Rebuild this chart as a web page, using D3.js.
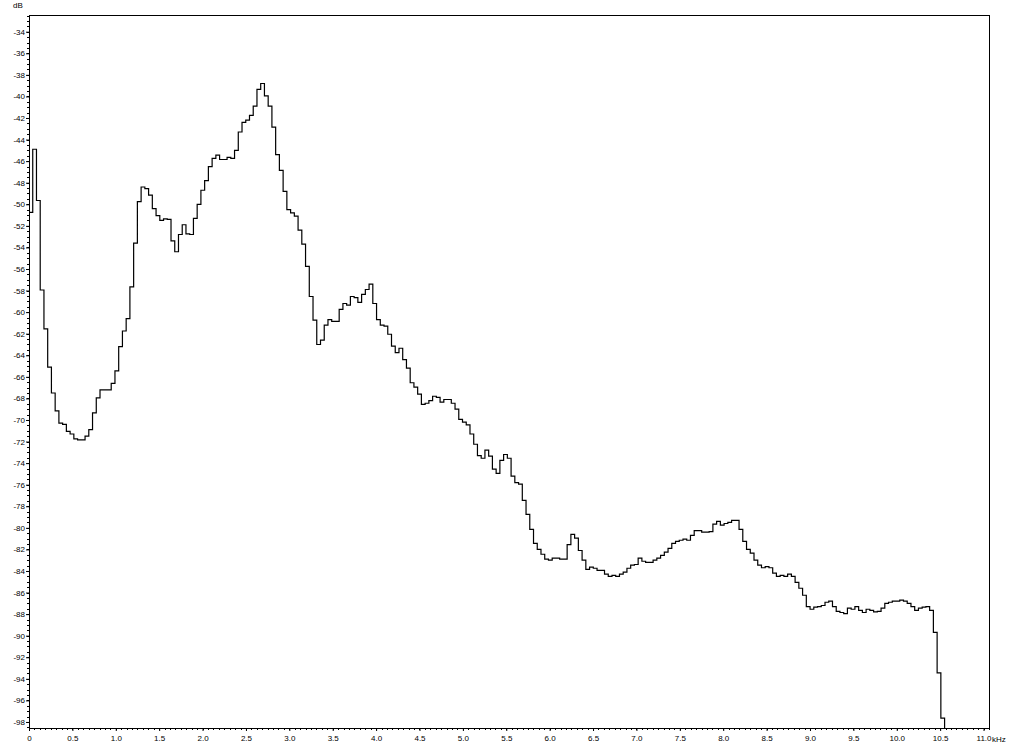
<!DOCTYPE html>
<html>
<head>
<meta charset="utf-8">
<script src="https://cdn.jsdelivr.net/npm/d3@7"></script>
<style>
  body { margin: 0; background: #fff; }
  svg { display: block; }
  .tick text, .lbl { font-family: "Liberation Sans", Arial, sans-serif; font-size: 8px; fill: #000; }
</style>
</head>
<body>
<div id="chart"></div>
<script>
// spectrum bins, 11025 Hz / 256 each, level in dB
var BIN_KHZ = 11.025 / 256;
var levels = [
  -50.75, -44.9, -49.65, -57.95, -61.55, -65.1, -67.5, -69.15, -70.3, -70.4,
  -71.05, -71.3, -71.75, -71.85, -71.85, -71.5, -70.9, -69.35, -67.95, -67.2,
  -67.2, -67.2, -66.6, -65.45, -63.2, -61.75, -60.6, -57.65, -53.6, -49.75,
  -48.4, -48.55, -49.15, -50.4, -51.05, -51.5, -51.35, -51.4, -53.4, -54.4,
  -52.8, -51.9, -52.75, -52.8, -51.3, -50.0, -48.7, -47.8, -46.5, -45.75,
  -45.45, -45.85, -45.85, -45.65, -45.75, -45.0, -43.3, -42.4, -42.2, -41.75,
  -40.9, -39.35, -38.8, -39.95, -40.9, -42.85, -45.4, -46.85, -48.8, -50.5,
  -50.8, -51.1, -52.4, -53.7, -55.75, -58.55, -60.75, -63.0, -62.6, -61.2,
  -60.7, -60.85, -60.85, -59.75, -59.2, -59.35, -58.55, -58.65, -59.1, -58.35,
  -57.9, -57.4, -59.2, -60.7, -61.2, -61.3, -62.05, -63.15, -63.75, -63.35,
  -64.4, -65.2, -66.55, -66.95, -67.6, -68.55, -68.45, -68.2, -67.8, -67.9,
  -68.35, -68.1, -68.1, -68.45, -69.0, -69.95, -70.2, -70.45, -71.3, -72.25,
  -73.3, -73.55, -72.8, -73.35, -74.55, -74.95, -73.75, -73.2, -73.55, -75.2,
  -75.8, -75.95, -77.45, -78.75, -80.15, -81.45, -82.0, -82.45, -82.9, -83.0,
  -82.8, -82.8, -82.9, -82.9, -81.55, -80.6, -80.95, -82.1, -83.0, -83.85,
  -83.65, -83.75, -83.95, -83.95, -84.3, -84.5, -84.4, -84.5, -84.3, -84.1,
  -83.75, -83.45, -83.4, -82.8, -83.1, -83.2, -83.2, -83.0, -82.8, -82.55,
  -82.25, -81.9, -81.45, -81.25, -81.15, -81.05, -81.15, -80.7, -80.25, -80.25,
  -80.4, -80.4, -80.35, -79.65, -79.4, -79.75, -79.6, -79.5, -79.3, -79.3,
  -80.15, -81.25, -82.0, -82.35, -83.0, -83.45, -83.7, -83.6, -83.7, -84.2,
  -84.5, -84.4, -84.5, -84.3, -84.5, -85.05, -85.6, -86.25, -87.3, -87.55,
  -87.35, -87.3, -87.2, -86.9, -86.8, -87.3, -87.75, -87.85, -87.95, -87.45,
  -87.55, -87.3, -87.65, -87.85, -87.55, -87.65, -87.8, -87.75, -87.45, -87.0,
  -86.9, -86.8, -86.8, -86.7, -86.8, -87.0, -87.3, -87.65, -87.45, -87.35,
  -87.3, -87.65, -89.7, -93.45, -97.65
];

var Y_TICKS = [-34,-36,-38,-40,-42,-44,-46,-48,-50,-52,-54,-56,-58,-60,-62,-64,
  -66,-68,-70,-72,-74,-76,-78,-80,-82,-84,-86,-88,-90,-92,-94,-96,-98];
var X_TICKS = [0,0.5,1,1.5,2,2.5,3,3.5,4,4.5,5,5.5,6,6.5,7,7.5,8,8.5,9,9.5,10,10.5,11];

var chart_w = 1024, chart_h = 745;
var plot_l = 29, plot_r = 989, plot_t = 15, plot_b = 728;

var x = d3.scaleLinear().domain([0, 11.063]).range([plot_l, plot_r]);
var y = d3.scaleLinear().domain([-32.45, -98.56]).range([plot_t, plot_b]);

var svg = d3.select("#chart").append("svg")
  .attr("width", chart_w)
  .attr("height", chart_h);

// minor ticks
var yMinor = d3.range(-32.5, -98.6, -0.5);
var xMinor = d3.range(0, 11.07, 0.0625);

svg.append("g")
  .selectAll("line")
  .data(yMinor)
  .enter().append("line")
    .attr("x1", plot_l - 2).attr("x2", plot_l)
    .attr("y1", function(d){ return Math.round(y(d)) + 0.5 })
    .attr("y2", function(d){ return Math.round(y(d)) + 0.5 })
    .attr("stroke", "#000");

svg.append("g")
  .selectAll("line")
  .data(xMinor)
  .enter().append("line")
    .attr("x1", function(d){ return Math.round(x(d)) + 0.5 })
    .attr("x2", function(d){ return Math.round(x(d)) + 0.5 })
    .attr("y1", plot_b).attr("y2", plot_b + 2)
    .attr("stroke", "#000");

var yAxis = d3.axisLeft(y)
  .tickValues(Y_TICKS)
  .tickSize(3)
  .tickPadding(1)
  .tickFormat(function(d){ return "-" + Math.abs(d) });

svg.append("g")
  .attr("transform", "translate(" + plot_l + ",0)")
  .call(yAxis)
  .call(function(g){ g.select(".domain").remove() });

var xAxis = d3.axisBottom(x)
  .tickValues(X_TICKS)
  .tickSize(3)
  .tickPadding(4)
  .tickFormat(function(d){ return d == 0 ? "0" : d3.format(".1f")(d) });

svg.append("g")
  .attr("transform", "translate(0," + plot_b + ")")
  .call(xAxis)
  .call(function(g){ g.select(".domain").remove() });

svg.selectAll(".tick line").attr("stroke", "#000");

svg.append("text")
  .attr("class", "lbl")
  .attr("x", 13)
  .attr("y", 8)
  .text("dB");

svg.append("text")
  .attr("class", "lbl")
  .attr("x", 992)
  .attr("y", 742)
  .text("kHz");

// frame
svg.append("rect")
  .attr("x", plot_l + 0.5)
  .attr("y", plot_t + 0.5)
  .attr("width", plot_r - plot_l)
  .attr("height", plot_b - plot_t)
  .attr("fill", "none")
  .attr("stroke", "#000");

// step curve
var pts = levels.map(function(v, i){ return [i * BIN_KHZ, v] });
var n = levels.length;
pts.push([n * BIN_KHZ, levels[n - 1]]);
pts.push([n * BIN_KHZ, y.domain()[1]]);

var line = d3.line()
  .x(function(d){ return x(d[0]) })
  .y(function(d){ return y(d[1]) })
  .curve(d3.curveStepAfter);

svg.append("path")
  .datum(pts)
  .attr("d", line)
  .attr("fill", "none")
  .attr("stroke", "#000")
  .attr("stroke-width", 1.2);
</script>
</body>
</html>
